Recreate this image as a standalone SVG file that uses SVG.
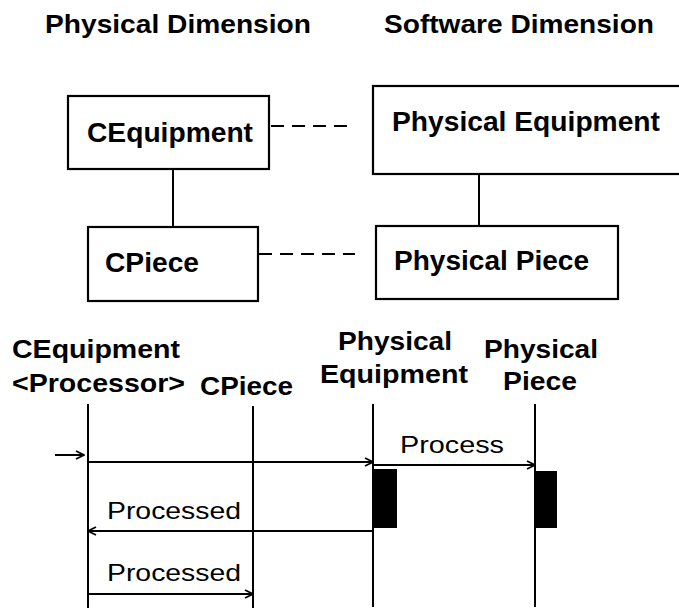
<svg xmlns="http://www.w3.org/2000/svg" width="679" height="610" viewBox="0 0 679 610">
<defs>
<style>
.b{font-family:"Liberation Sans",Arial,sans-serif;font-weight:bold;fill:#000}
.n{font-family:"Liberation Sans",Arial,sans-serif;fill:#000}
.box{fill:#fff;stroke:#000;stroke-width:2.2}
.ln{stroke:#000;stroke-width:2;fill:none}
.dash{stroke:#000;stroke-width:2;stroke-dasharray:13 8;fill:none}
.act{fill:#000}
</style>
<marker id="ah" viewBox="0 0 10 10" refX="9" refY="5" markerWidth="10" markerHeight="10" markerUnits="userSpaceOnUse" orient="auto">
<path d="M1,1 L9,5 L1,9" fill="none" stroke="#000" stroke-width="1.8"/>
</marker>
</defs>
<rect width="679" height="610" fill="#fff"/>
<text class="b" x="45" y="33" font-size="25" textLength="266" lengthAdjust="spacingAndGlyphs">Physical Dimension</text>
<text class="b" x="384" y="33" font-size="25" textLength="270" lengthAdjust="spacingAndGlyphs">Software Dimension</text>

<g id="connectors">
<line class="dash" x1="271" y1="126" x2="355" y2="126"/>
<line class="dash" x1="259" y1="254" x2="355" y2="254"/>
<line class="ln" x1="173" y1="169" x2="173" y2="227"/>
<line class="ln" x1="479" y1="174" x2="479" y2="226"/>
</g>

<g id="cequipment">
<rect class="box" x="68" y="96" width="201" height="73"/>
<text class="b" x="87" y="142" font-size="27" textLength="166" lengthAdjust="spacingAndGlyphs">CEquipment</text>
</g>
<g id="physical-equipment">
<rect class="box" x="373" y="86" width="320" height="88"/>
<text class="b" x="392" y="131" font-size="27" textLength="268" lengthAdjust="spacingAndGlyphs">Physical Equipment</text>
</g>
<g id="cpiece">
<rect class="box" x="88" y="227" width="170" height="74"/>
<text class="b" x="105" y="272" font-size="27" textLength="94" lengthAdjust="spacingAndGlyphs">CPiece</text>
</g>
<g id="physical-piece">
<rect class="box" x="376" y="226" width="242" height="73"/>
<text class="b" x="394" y="270" font-size="27" textLength="195" lengthAdjust="spacingAndGlyphs">Physical Piece</text>
</g>

<g id="sequence">
<g id="ll-cequipment">
<text class="b" x="12" y="358" font-size="25" textLength="168" lengthAdjust="spacingAndGlyphs">CEquipment</text>
<text class="b" x="12" y="392" font-size="25" textLength="173" lengthAdjust="spacingAndGlyphs">&lt;Processor&gt;</text>
<line class="ln" x1="88" y1="404" x2="88" y2="608"/>
</g>
<g id="ll-cpiece">
<text class="b" x="200" y="395" font-size="25" textLength="93" lengthAdjust="spacingAndGlyphs">CPiece</text>
<line class="ln" x1="253" y1="406" x2="253" y2="608"/>
</g>
<g id="ll-physical-equipment">
<text class="b" x="338" y="350" font-size="25" textLength="114" lengthAdjust="spacingAndGlyphs">Physical</text>
<text class="b" x="320" y="383" font-size="25" textLength="148" lengthAdjust="spacingAndGlyphs">Equipment</text>
<line class="ln" x1="373" y1="404" x2="373" y2="607"/>
<rect class="act" x="373" y="469" width="24" height="59"/>
</g>
<g id="ll-physical-piece">
<text class="b" x="484" y="358" font-size="25" textLength="114" lengthAdjust="spacingAndGlyphs">Physical</text>
<text class="b" x="503" y="390" font-size="25" textLength="74" lengthAdjust="spacingAndGlyphs">Piece</text>
<line class="ln" x1="535" y1="404" x2="535" y2="607"/>
<rect class="act" x="535" y="471" width="22" height="57"/>
</g>
<g id="messages">
<line class="ln" x1="55" y1="455" x2="84" y2="455" marker-end="url(#ah)"/>
<line class="ln" x1="88" y1="462" x2="373" y2="462" marker-end="url(#ah)"/>
<line class="ln" x1="373" y1="465" x2="535" y2="465" marker-end="url(#ah)"/>
<text class="n" x="400" y="453" font-size="24" textLength="104" lengthAdjust="spacingAndGlyphs">Process</text>
<line class="ln" x1="373" y1="531" x2="88" y2="531" marker-end="url(#ah)"/>
<text class="n" x="107" y="519" font-size="24" textLength="134" lengthAdjust="spacingAndGlyphs">Processed</text>
<line class="ln" x1="88" y1="594" x2="253" y2="594" marker-end="url(#ah)"/>
<text class="n" x="107" y="581" font-size="24" textLength="134" lengthAdjust="spacingAndGlyphs">Processed</text>
</g>
</g>
</svg>
